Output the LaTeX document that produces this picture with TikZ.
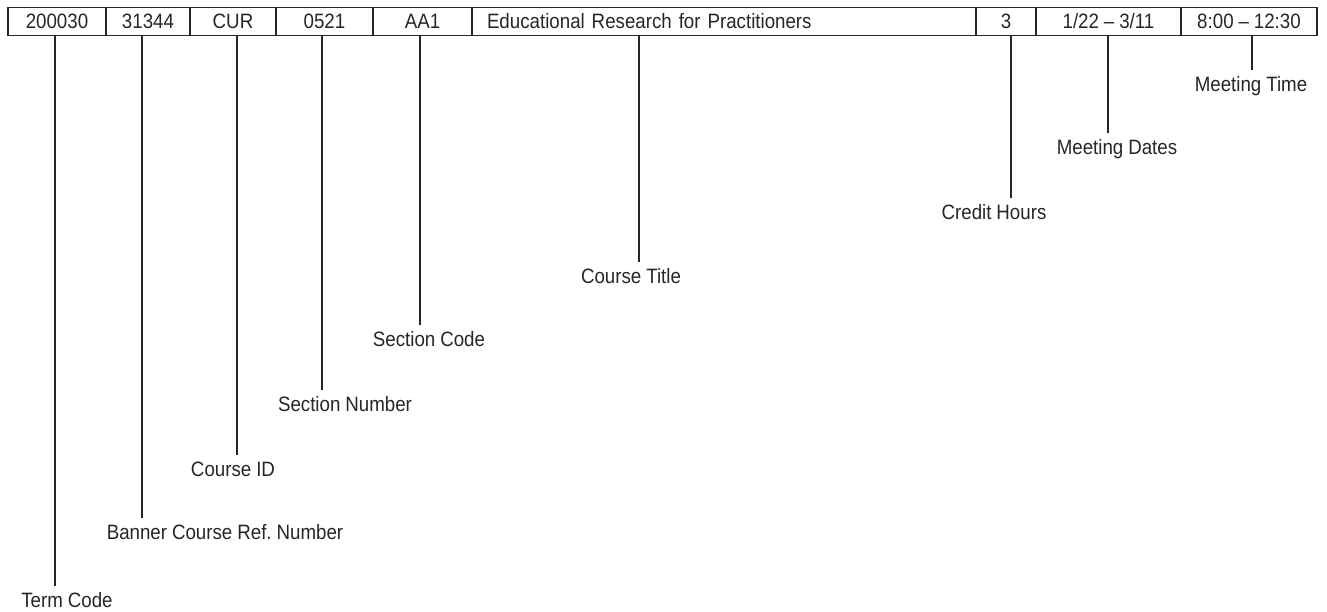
\documentclass[tikz,border=0pt]{standalone}
\usepackage{fontspec}
\setmainfont{Liberation Sans}[FakeStretch=0.9,WordSpace=0.95]
\frenchspacing
\begin{document}
\begin{tikzpicture}[x=1pt,y=-1pt,
  ink/.style={draw=black!85},
  field/.style={ink, line width=1.3pt, minimum height=28pt, inner sep=0pt, text=black!85,
    font=\fontsize{20.8}{24}\selectfont},
  lbl/.style={anchor=north, inner xsep=0pt, inner ysep=6.5pt, text height=15pt, text depth=4pt,
    text=black!85, font=\fontsize{20.8}{24}\selectfont},
  leader/.style={ink, line width=1.1pt}]
\useasboundingbox (0,0) rectangle (1327,611);
% fields
\node[field, minimum width=98pt]  (f1) at (57,21.5)    {200030};
\node[field, minimum width=84pt]  (f2) at (148,21.5)   {31344};
\node[field, minimum width=86pt]  (f3) at (233,21.5)   {CUR};
\node[field, minimum width=97pt]  (f4) at (324.5,21.5) {0521};
\node[field, minimum width=99pt]  (f5) at (422.5,21.5) {AA1};
\node[field, minimum width=504pt, text width=474pt, align=left] (f6) at (724,21.5) {Educational Research for Practitioners};
\node[field, minimum width=60pt]  (f7) at (1006,21.5)  {3};
\node[field, minimum width=145pt] (f8) at (1108.5,21.5){1/22 -- 3/11};
\node[field, minimum width=136pt] (f9) at (1249,21.5)  {8:00 -- 12:30};
% tick positions
\coordinate (t1) at (55,0);
\coordinate (t2) at (142,0);
\coordinate (t3) at (237,0);
\coordinate (t4) at (322,0);
\coordinate (t5) at (420,0);
\coordinate (t6) at (639,0);
\coordinate (t7) at (1011,0);
\coordinate (t8) at (1108,0);
\coordinate (t9) at (1252,0);
% labels
\node[lbl] (l1) at (67,586)   {Term Code};
\node[lbl] (l2) at (225,518)  {Banner Course Ref. Number};
\node[lbl] (l3) at (233,455)  {Course ID};
\node[lbl] (l4) at (345,390)  {Section Number};
\node[lbl] (l5) at (429,325)  {Section Code};
\node[lbl] (l6) at (631,262)  {Course Title};
\node[lbl] (l7) at (994,198)  {Credit Hours};
\node[lbl] (l8) at (1117,133) {Meeting Dates};
\node[lbl] (l9) at (1251,70)  {Meeting Time};
% leaders
\draw[leader] (t1 |- f1.south) -- (t1 |- l1.north);
\draw[leader] (t2 |- f2.south) -- (t2 |- l2.north);
\draw[leader] (t3 |- f3.south) -- (t3 |- l3.north);
\draw[leader] (t4 |- f4.south) -- (t4 |- l4.north);
\draw[leader] (t5 |- f5.south) -- (t5 |- l5.north);
\draw[leader] (t6 |- f6.south) -- (t6 |- l6.north);
\draw[leader] (t7 |- f7.south) -- (t7 |- l7.north);
\draw[leader] (t8 |- f8.south) -- (t8 |- l8.north);
\draw[leader] (t9 |- f9.south) -- (t9 |- l9.north);
\end{tikzpicture}
\end{document}
